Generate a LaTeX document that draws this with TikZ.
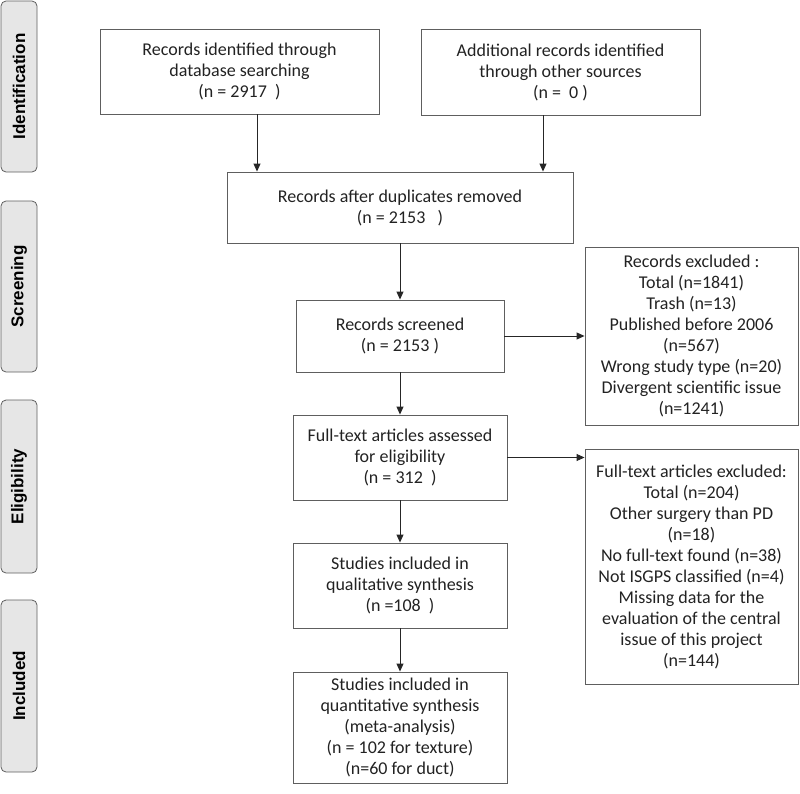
\documentclass[tikz,border=0pt]{standalone}
\usepackage{fontspec}
\setmainfont{Carlito}
\newfontfamily\labfont{Liberation Sans}
\usetikzlibrary{arrows.meta}
\definecolor{boxline}{HTML}{5E5E5E}
\definecolor{labfill}{HTML}{E6E6E6}
\definecolor{txt}{HTML}{222222}
\tikzset{
  flowbox/.style={draw=boxline, line width=0.9pt, rectangle, inner sep=0pt, align=center,
    text=txt, font=\fontsize{18}{21}\selectfont},
  phase/.style={draw=boxline, fill=labfill, line width=0.8pt, rounded corners=5pt,
    minimum width=36pt, inner sep=0pt},
  phasetext/.style={rotate=90, font=\labfont\bfseries\fontsize{17}{18}\selectfont, text=black},
  arr/.style={draw=black!85, line width=0.9pt, -{Triangle[length=8pt,width=7pt]}}
}
\begin{document}
\begin{tikzpicture}[x=1pt,y=-1pt]
\useasboundingbox (0,0) rectangle (800,793);
% phase labels
\node[phase, minimum height=171pt] (pid) at (19,86.5) {};
\node[phasetext] (tid) at (pid.center) {Identification};
\node[phase, minimum height=171pt] (psc) at (19,286.5) {};
\node[phasetext] (tsc) at (psc.center) {Screening};
\node[phase, minimum height=173pt] (pel) at (19,486.5) {};
\node[phasetext] (tel) at (pel.center) {Eligibility};
\node[phase, minimum height=172pt] (pin) at (19,686) {};
\node[phasetext] (tin) at (pin.center) {Included};
% boxes
\node[flowbox, minimum width=279pt, minimum height=85pt] (b1) at (239.5,71.5)
  {Records identified through\\database searching\\(n = 2917~~)};
\node[flowbox, minimum width=279pt, minimum height=86pt] (b2) at (560.5,72)
  {Additional records identified\\through other sources\\(n = ~0 )};
\node[flowbox, minimum width=346pt, minimum height=71pt] (b3) at (400,207.5)
  {Records after duplicates removed\\(n = 2153~~~)};
\node[flowbox, minimum width=208pt, minimum height=72pt] (b4) at (400,336)
  {Records screened\\(n = 2153 )};
\node[flowbox, minimum width=213pt, minimum height=178pt] (e1) at (691.5,336)
  {Records excluded :\\Total (n=1841)\\Trash (n=13)\\Published before 2006\\(n=567)\\Wrong study type (n=20)\\Divergent scientific issue\\(n=1241)};
\node[flowbox, minimum width=213pt, minimum height=235pt] (e2) at (691.5,566.5)
  {Full-text articles excluded:\\Total (n=204)\\Other surgery than PD\\(n=18)\\No full-text found (n=38)\\Not ISGPS classified (n=4)\\Missing data for the\\evaluation of the central\\issue of this project\\(n=144)};
\node[flowbox, minimum width=214pt, minimum height=85pt] (b5) at (400,457.5)
  {Full-text articles assessed\\for eligibility\\(n = 312~~)};
\node[flowbox, minimum width=214pt, minimum height=85pt] (b6) at (400,585.5)
  {Studies included in\\qualitative synthesis\\(n =108~~)};
\node[flowbox, minimum width=214pt, minimum height=111pt] (b7) at (400,727.5)
  {Studies included in\\quantitative synthesis\\(meta-analysis)\\(n = 102 for texture)\\(n=60 for duct)};
% connectors
\coordinate (xl) at (257,0);
\coordinate (xr) at (543,0);
\draw[arr] (b1.south -| xl) -- (b3.north -| xl);
\draw[arr] (b2.south -| xr) -- (b3.north -| xr);
\draw[arr] (b3) -- (b4);
\draw[arr] (b4.east) -- (b4.east -| e1.west);
\draw[arr] (b4) -- (b5);
\draw[arr] (b5.east) -- (b5.east -| e2.west);
\draw[arr] (b5) -- (b6);
\draw[arr] (b6) -- (b7);
\end{tikzpicture}
\end{document}
